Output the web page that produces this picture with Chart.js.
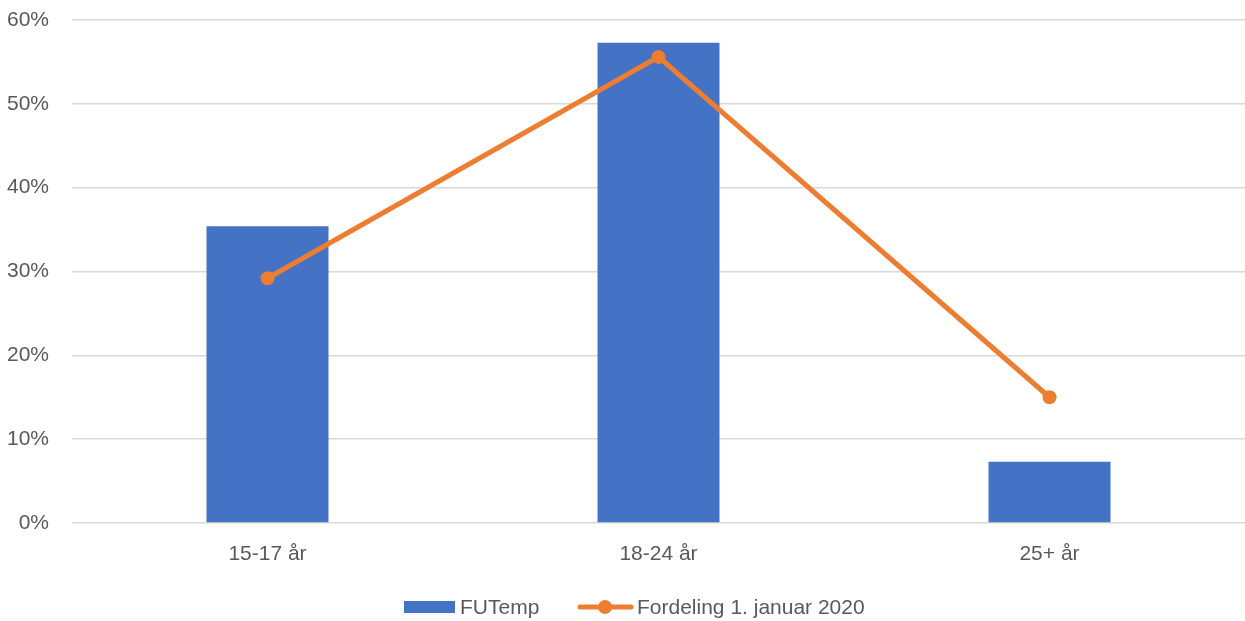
<!DOCTYPE html>
<html>
<head>
<meta charset="utf-8">
<script src="https://cdn.jsdelivr.net/npm/chart.js@4"></script>
<style>
html,body{margin:0;padding:0;background:#fff;}
#wrap{width:1245px;height:621px;position:relative;}
</style>
</head>
<body>
<div id="wrap"><canvas id="c"></canvas></div>
<script>
const categories = ["15-17 år", "18-24 år", "25+ år"];
const futempValues = [35.4, 57.3, 7.3];
const fordelingValues = [29.2, 55.6, 15.0];
const seriesNames = ["FUTemp", "Fordeling 1. januar 2020"];
const yTicks = [0, 10, 20, 30, 40, 50, 60];

const FONT = "'Liberation Sans', Arial, sans-serif";
const FS = 21;
const TEXT = "#595959";
const BLUE = "#4472C4";
const ORANGE = "#ED7D31";

const legendPlugin = {
  id: 'customLegend',
  afterDraw(chart) {
    const ctx = chart.ctx;
    const ds = chart.data.datasets;
    const barDs = ds.find(d => d.type === 'bar');
    const lineDs = ds.find(d => d.type === 'line');
    const y = 607;
    ctx.save();
    ctx.font = FS + "px " + FONT;
    ctx.textBaseline = 'middle';
    ctx.fillStyle = BLUE;
    ctx.fillRect(404, y - 6, 51, 12);
    ctx.fillStyle = TEXT;
    ctx.fillText(barDs.label, 460, y + 1);
    ctx.strokeStyle = ORANGE;
    ctx.lineWidth = 5;
    ctx.lineCap = 'round';
    ctx.beginPath();
    ctx.moveTo(580, y);
    ctx.lineTo(631, y);
    ctx.stroke();
    ctx.fillStyle = ORANGE;
    ctx.beginPath();
    ctx.arc(605, y, 7, 0, Math.PI * 2);
    ctx.fill();
    ctx.fillStyle = TEXT;
    ctx.fillText(lineDs.label, 637, y + 1);
    ctx.restore();
  }
};

new Chart(document.getElementById('c'), {
  data: {
    labels: categories,
    datasets: [
      {
        type: 'line',
        label: seriesNames[1],
        data: fordelingValues,
        borderColor: ORANGE,
        backgroundColor: ORANGE,
        borderWidth: 5,
        pointRadius: 7,
        pointHoverRadius: 7,
        pointBackgroundColor: ORANGE,
        pointBorderWidth: 0,
        tension: 0,
        order: 0
      },
      {
        type: 'bar',
        label: seriesNames[0],
        data: futempValues,
        backgroundColor: BLUE,
        barPercentage: 1,
        categoryPercentage: 0.312,
        order: 1
      }
    ]
  },
  plugins: [legendPlugin],
  options: {
    responsive: true,
    maintainAspectRatio: false,
    animation: false,
    layout: { autoPadding: false, padding: { top: 20, right: 0, bottom: 48, left: 0 } },
    plugins: {
      legend: { display: false },
      tooltip: { enabled: false }
    },
    scales: {
      x: {
        grid: { display: false, drawTicks: false },
        border: { display: false },
        ticks: { color: TEXT, font: { family: FONT, size: FS }, padding: 19 },
        afterFit(s) { s.height = 50; s.paddingLeft = 0; s.paddingRight = 0; }
      },
      y: {
        min: 0,
        max: 60,
        afterBuildTicks(s) { s.ticks = yTicks.map(v => ({ value: v })); },
        grid: { color: '#D9D9D9', lineWidth: 1.5, drawTicks: false },
        border: { display: false },
        ticks: {
          color: TEXT,
          font: { family: FONT, size: FS },
          padding: 23,
          callback: v => v + '%'
        },
        afterFit(s) { s.width = 72; s.paddingTop = 0; s.paddingBottom = 0; }
      }
    }
  }
});
</script>
</body>
</html>
